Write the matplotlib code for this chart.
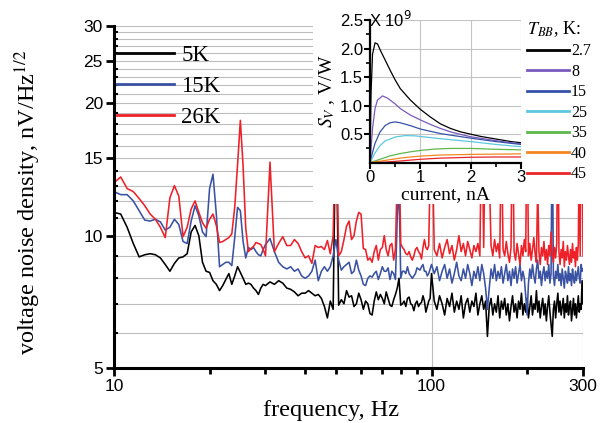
import numpy as np
import matplotlib
matplotlib.use("Agg")
import matplotlib.pyplot as plt
from matplotlib.ticker import FixedLocator, NullFormatter, FixedFormatter

plt.rcParams['font.family'] = ['Liberation Serif', 'DejaVu Serif']
plt.rcParams['mathtext.fontset'] = 'stix'

# ---------------- main chart data ----------------
freq_a = np.arange(10.0, 30.01, 0.5)      # 0.5 Hz bins
freq_b = np.arange(31.0, 100.5, 1.0)      # 1 Hz bins
freq_c = np.arange(102.0, 300.5, 2.0)     # 2 Hz bins
freq = np.concatenate([freq_a, freq_b, freq_c])

k5_a = [11.3, 11.2, 10.45, 9.6, 8.95, 9.05, 9.1, 9.05, 8.9, 8.6, 8.3, 8.65, 8.9, 8.95, 9.1,
        10.2, 10.55, 10.0, 8.7, 8.3, 8.25, 7.9, 7.75, 7.5, 7.7, 7.95, 8.2, 7.75, 8.1, 8.5,
        8.25, 8.0, 7.75, 7.8, 7.75, 7.6, 7.5, 7.35, 7.6, 7.75, 7.7]
k5_b = [7.85, 7.75, 7.9, 7.8, 7.6, 7.55, 7.45, 7.3, 7.4, 7.4, 7.5, 7.4, 7.3, 7.35, 7.2,
        6.9, 6.5, 7.1, 6.8, 20.0, 6.95, 7.15, 7.0, 7.5, 7.25, 7.3, 6.9, 7.0, 7.4, 7.15,
        6.8, 7.1, 7.0, 6.65, 6.6, 7.1, 7.45, 7.15, 7.35, 7.2, 7.0, 7.45, 7.2, 6.95, 6.9,
        7.15, 7.35, 7.6, 8.0, 6.95, 7.0, 7.1, 6.9, 7.2, 7.25, 7.0, 6.95, 6.75, 7.0, 7.1,
        6.9, 7.0, 7.05, 7.3, 7.1, 6.7, 6.9, 7.1, 7.2, 8.2]
k5_c = [7.1, 6.8, 7.3, 7.0, 6.6, 7.2, 6.9, 7.4, 6.7, 7.1, 6.8, 7.3, 6.5, 7.0, 7.2,
        6.7, 7.1, 6.9, 7.4, 6.6, 7.0, 7.3, 6.8, 7.1, 5.9, 6.9, 7.2, 6.6, 7.0, 6.7,
        7.3, 6.5, 7.1, 6.8, 7.2, 6.6, 7.0, 6.4, 6.9, 7.3, 6.7, 7.0, 6.5, 7.1, 6.8,
        7.4, 6.6, 7.0, 6.7, 7.2, 6.5, 6.9, 7.3, 6.6, 7.0, 6.8, 7.5, 6.7, 7.1, 6.5,
        6.9, 7.2, 6.6, 7.0, 6.4, 6.9, 7.3, 6.7, 6.3, 5.9, 6.8, 7.1, 6.5, 7.0, 7.4,
        6.7, 7.1, 6.6, 6.9, 7.2, 6.5, 7.0, 6.7, 7.3, 6.6, 6.9, 7.1, 6.4, 6.8, 7.2,
        6.6, 7.0, 6.5, 6.9, 7.3, 6.7, 7.0, 6.8, 7.9, 7.0]

k15_a = [12.6, 12.4, 12.4, 12.0, 11.4, 10.85, 10.8, 10.9, 10.75, 10.3, 10.45, 10.9, 10.6,
         9.7, 9.6, 10.8, 11.7, 11.1, 10.2, 9.95, 12.8, 13.8, 11.2, 8.5, 8.6, 8.7, 8.7,
         8.55, 9.9, 11.6, 11.4, 9.7, 8.9, 9.4, 9.3, 9.4, 9.2, 9.05, 9.0, 9.3, 9.55]
k15_b = [9.85, 9.2, 8.7, 8.5, 8.4, 8.5, 8.3, 8.4, 8.1, 8.0, 8.1, 8.3, 8.8, 7.9, 8.3,
         8.5, 8.3, 8.5, 9.0, 9.8, 8.8, 8.35, 8.5, 8.6, 8.7, 8.2, 8.3, 8.8, 8.35, 8.1,
         7.75, 7.7, 8.0, 8.1, 8.05, 8.2, 8.3, 7.95, 8.2, 8.5, 8.3, 8.3, 8.45, 7.95, 8.3,
         8.2, 7.95, 11.0, 13.0, 8.0, 8.3, 8.3, 8.2, 8.5, 8.2, 8.1, 8.0, 8.1, 8.2, 8.45,
         8.4, 8.35, 8.5, 8.6, 8.3, 8.3, 8.1, 8.2, 8.4, 8.6]
k15_c = [8.2, 8.5, 7.9, 8.3, 8.6, 8.0, 8.4, 7.8, 8.2, 8.7, 8.1, 7.9, 8.4, 8.0, 8.6,
         8.2, 7.7, 8.3, 8.0, 8.5, 7.9, 8.6, 8.2, 7.6, 6.8, 7.6, 8.4, 8.0, 8.6, 7.9,
         8.3, 8.0, 8.5, 7.8, 8.2, 8.6, 7.9, 8.3, 7.7, 8.4, 8.0, 8.5, 7.8, 8.2, 8.6,
         7.9, 8.3, 8.0, 7.3, 6.6, 7.8, 8.4, 8.0, 8.6, 8.1, 7.8, 8.4, 8.8, 8.0, 8.3,
         7.7, 8.2, 8.5, 7.9, 8.3, 8.0, 8.6, 7.8, 8.2, 20.0, 8.1, 7.7, 8.3, 8.0, 8.6,
         7.9, 8.2, 7.7, 8.4, 8.0, 7.6, 8.3, 8.1, 7.8, 8.5, 7.9, 8.2, 7.7, 8.4, 8.0,
         7.8, 8.3, 7.9, 8.2, 8.5, 8.0, 7.8, 8.6, 8.3, 8.4]

k26_a = [13.2, 13.6, 12.8, 12.6, 12.15, 11.7, 11.2, 10.9, 10.45, 9.9, 12.2, 13.0, 12.3,
         9.95, 10.45, 11.5, 12.0, 11.3, 10.7, 10.4, 10.9, 11.2, 10.55, 9.65, 9.7, 9.8,
         9.9, 10.1, 11.6, 14.5, 18.3, 14.4, 10.4, 9.2, 9.35, 9.45, 9.65, 9.6, 9.55, 9.3, 9.0]
k26_b = [14.7, 9.2, 9.6, 9.95, 9.5, 9.5, 9.8, 9.6, 9.2, 8.9, 9.0, 8.65, 9.5, 9.4, 9.45,
         9.3, 9.75, 9.1, 10.0, 20.0, 9.0, 9.2, 9.8, 10.5, 10.8, 9.8, 10.0, 10.8, 11.3, 11.2,
         9.35, 9.3, 8.8, 8.9, 8.7, 9.2, 9.5, 8.8, 9.3, 9.4, 10.0, 9.3, 9.0, 9.5, 9.6,
         8.8, 9.3, 14.0, 16.0, 9.6, 9.4, 9.3, 9.1, 9.05, 9.2, 8.95, 8.8, 9.0, 9.3, 9.4,
         9.2, 9.1, 8.85, 9.4, 9.8, 9.4, 9.3, 9.5, 14.0, 20.0]
k26_c = [9.3, 9.0, 9.6, 8.9, 9.4, 9.8, 9.1, 9.5, 8.8, 9.3, 10.0, 9.2, 9.6, 9.0, 9.7,
         9.3, 8.9, 9.5, 9.2, 9.6, 9.0, 20.0, 9.4, 20.0, 20.0, 14.0, 9.5, 9.0, 9.8, 9.2,
         9.6, 8.9, 18.0, 9.3, 9.0, 9.7, 9.1, 8.7, 9.4, 20.0, 9.2, 8.8, 9.6, 9.1, 8.6,
         9.5, 9.0, 9.8, 9.2, 20.0, 9.0, 9.6, 8.8, 9.3, 9.9, 9.1, 8.7, 13.0, 9.2, 8.6,
         9.4, 9.0, 9.7, 8.8, 9.3, 8.6, 9.5, 9.0, 10.2, 9.1, 8.7, 9.4, 8.9, 9.6, 20.0,
         9.2, 8.6, 9.3, 8.9, 9.7, 8.5, 9.2, 8.8, 9.5, 9.0, 8.6, 9.3, 8.7, 9.6, 8.9,
         9.2, 8.5, 9.4, 8.8, 9.6, 16.0, 9.0, 20.0, 20.0, 9.0]

noise_5k = np.array(k5_a + k5_b + k5_c)
noise_15k = np.array(k15_a + k15_b + k15_c)
noise_26k = np.array(k26_a + k26_b + k26_c)

series_labels = ['5K', '15K', '26K']
series_colors = ['#000000', '#3a52a4', '#ee2028']

# ---------------- inset data ----------------
tbb_labels = ['2.7', '8', '15', '25', '35', '40', '45']
tbb_colors = ['#000000', '#7a59bd', '#3652a8', '#5cc8df', '#5db84a', '#f5861f', '#e9262a']

i_27 = [0, 0.02, 0.05, 0.1, 0.15, 0.2, 0.3, 0.4, 0.5, 0.6, 0.8, 1.0, 1.2, 1.4, 1.6, 1.8, 2.0, 2.2, 2.4, 2.6, 2.8, 3.0]
s_27 = [0, 1.2, 1.9, 2.1, 2.08, 1.98, 1.8, 1.62, 1.45, 1.30, 1.10, 0.935, 0.80, 0.68, 0.60, 0.54, 0.50, 0.46, 0.43, 0.40, 0.37, 0.35]
i_8 = [0, 0.05, 0.1, 0.15, 0.25, 0.35, 0.5, 0.6, 0.8, 1.0, 1.2, 1.4, 1.6, 1.8, 2.0, 2.4, 2.8, 3.0]
s_8 = [0, 0.6, 0.95, 1.1, 1.17, 1.13, 1.03, 0.95, 0.835, 0.75, 0.67, 0.60, 0.54, 0.495, 0.455, 0.40, 0.35, 0.33]
i_15 = [0, 0.05, 0.1, 0.2, 0.3, 0.4, 0.5, 0.6, 0.8, 1.0, 1.2, 1.4, 1.7, 2.0, 2.5, 3.0]
s_15 = [0, 0.18, 0.34, 0.54, 0.65, 0.70, 0.715, 0.70, 0.65, 0.59, 0.55, 0.51, 0.47, 0.43, 0.37, 0.32]
i_25 = [0, 0.1, 0.2, 0.3, 0.5, 0.7, 0.9, 1.0, 1.4, 2.0, 2.5, 3.0]
s_25 = [0, 0.17, 0.30, 0.38, 0.45, 0.475, 0.47, 0.46, 0.42, 0.37, 0.32, 0.28]
i_35 = [0, 0.2, 0.4, 0.6, 0.8, 1.0, 1.3, 1.6, 2.0, 2.5, 3.0]
s_35 = [0, 0.06, 0.12, 0.16, 0.19, 0.215, 0.24, 0.25, 0.25, 0.235, 0.225]
i_40 = [0, 0.3, 0.6, 0.8, 1.0, 1.4, 2.0, 2.5, 3.0]
s_40 = [0, 0.04, 0.08, 0.10, 0.115, 0.135, 0.145, 0.15, 0.155]
i_45 = [0, 0.3, 0.6, 1.0, 1.4, 2.0, 2.5, 3.0]
s_45 = [0, 0.01, 0.03, 0.06, 0.08, 0.095, 0.10, 0.10]

inset_x = [i_27, i_8, i_15, i_25, i_35, i_40, i_45]
inset_y = [s_27, s_8, s_15, s_25, s_35, s_40, s_45]

# ---------------- figure ----------------
W, H = 602, 423
fig = plt.figure(figsize=(W / 100, H / 100), dpi=100)

def fx(px):
    return px / W

def fy(py):
    return (H - py) / H

ax = fig.add_axes([fx(114), fy(368), fx(583) - fx(114), fy(26) - fy(368)])
ax.set_xscale('log')
ax.set_yscale('log')
for y, c, lab in zip([noise_5k, noise_15k, noise_26k], series_colors, series_labels):
    ax.plot(freq, y, color=c, lw=1.15, label=lab)
ax.set_xlim(10, 300)
ax.set_ylim(5, 30)

sans = 'Liberation Sans'
ax.xaxis.set_major_locator(FixedLocator([10, 100, 300]))
ax.xaxis.set_major_formatter(FixedFormatter(['10', '100', '300']))
ax.xaxis.set_minor_locator(FixedLocator([20, 30, 40, 50, 60, 70, 80, 90, 200]))
ax.xaxis.set_minor_formatter(NullFormatter())
ax.yaxis.set_major_locator(FixedLocator([5, 10, 15, 20, 25, 30]))
ax.yaxis.set_major_formatter(FixedFormatter(['5', '10', '15', '20', '25', '30']))
ax.yaxis.set_minor_locator(FixedLocator([v for v in range(6, 30) if v % 5 != 0]))
ax.yaxis.set_minor_formatter(NullFormatter())

ax.tick_params(axis='both', which='major', labelsize=12.5, width=2, length=6, direction='out', pad=2)
ax.tick_params(axis='x', which='minor', width=2, length=4, direction='out')
ax.tick_params(axis='y', which='minor', width=1.5, length=3, direction='in')
for lab in ax.get_xticklabels() + ax.get_yticklabels():
    lab.set_fontfamily(sans)

ax.grid(True, axis='y', which='both', color='#bdbdbd', lw=0.8)
ax.grid(True, axis='x', which='major', color='#bdbdbd', lw=0.8)
ax.set_axisbelow(True)
for s in ['top', 'right']:
    ax.spines[s].set_visible(False)
for s in ['left', 'bottom']:
    ax.spines[s].set_linewidth(2.2)

ax.set_xlabel('frequency, Hz', fontsize=17.5)
ax.xaxis.set_label_coords(0.462, -0.093)
ax.set_ylabel('voltage noise density, nV/Hz$^{1/2}$', fontsize=17.5)
ax.yaxis.set_label_coords(-0.152, 0.484)

leg = ax.legend(loc='upper left', bbox_to_anchor=(fx(117), fy(45)), bbox_transform=fig.transFigure,
                frameon=False, fontsize=16.5, handlelength=2.5, handletextpad=0.3,
                labelspacing=0.44, borderpad=0, borderaxespad=0)
for ln in leg.get_lines():
    ln.set_linewidth(2.0)

# white backdrop for inset region
bg = fig.add_axes([fx(313), fy(204), fx(602) - fx(313), fy(0) - fy(204)])
bg.set_facecolor('white')
bg.set_xticks([])
bg.set_yticks([])
for s in bg.spines.values():
    s.set_visible(False)

# ---------------- inset ----------------
ins = fig.add_axes([fx(370), fy(162.7), fx(521) - fx(370), fy(20) - fy(162.7)])
for xs, ys, c, lab in zip(inset_x, inset_y, tbb_colors, tbb_labels):
    ins.plot(xs, ys, color=c, lw=0.9, label=lab)
ins.set_xlim(0, 3)
ins.set_ylim(0, 2.5)
ins.xaxis.set_major_locator(FixedLocator([0, 1, 2, 3]))
ins.xaxis.set_minor_locator(FixedLocator([0.5, 1.5, 2.5]))
ins.yaxis.set_major_locator(FixedLocator([0.5, 1.0, 1.5, 2.0, 2.5]))
ins.yaxis.set_major_formatter(FixedFormatter(['0.5', '1.0', '1.5', '2.0', '2.5']))
ins.yaxis.set_minor_locator(FixedLocator([0.25, 0.75, 1.25, 1.75, 2.25]))
ins.tick_params(axis='both', which='major', labelsize=12, width=1.5, length=4, direction='out', pad=1)
ins.tick_params(axis='both', which='minor', width=1.2, length=3, direction='out')
for lab in ins.get_xticklabels() + ins.get_yticklabels():
    lab.set_fontfamily(sans)
ins.grid(True, which='major', color='#c4c4c4', lw=0.8)
ins.set_axisbelow(True)
for s in ['top', 'right']:
    ins.spines[s].set_visible(False)
for s in ['left', 'bottom']:
    ins.spines[s].set_linewidth(1.6)
ins.text(-0.005, 1.0, 'X 10$^{9}$', transform=ins.transAxes, ha='left', va='center',
         fontsize=12, family=sans, math_fontfamily='dejavusans')
ins.set_xlabel('current, nA', fontsize=14, labelpad=1)
ins.set_ylabel('$S_V$ , V/W', fontsize=14, labelpad=2)

ileg = ins.legend(loc='upper left', bbox_to_anchor=(fx(527), fy(19)), bbox_transform=fig.transFigure,
                  frameon=False, fontsize=11.5, handlelength=2.6, handletextpad=0.15,
                  labelspacing=0.28, borderpad=0, borderaxespad=0,
                  title='$T_{BB}$, K:', title_fontsize=13, alignment='left')
for ln in ileg.get_lines():
    ln.set_linewidth(2.0)

fig.savefig('out.png', dpi=100)
